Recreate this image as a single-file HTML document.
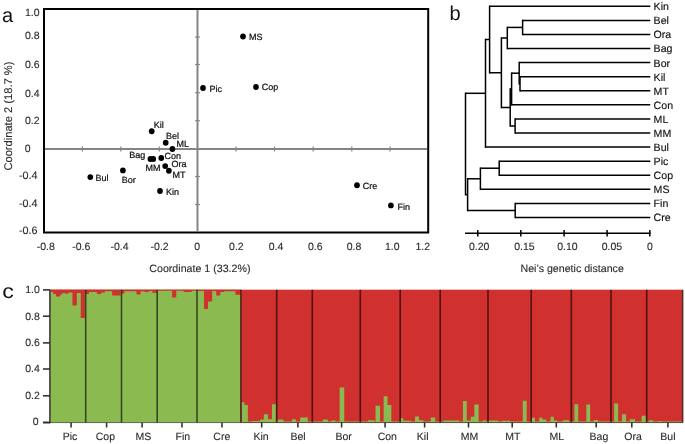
<!DOCTYPE html>
<html><head><meta charset="utf-8"><style>
html,body{margin:0;padding:0;background:#fff;}
body{width:685px;height:444px;overflow:hidden;}
svg{display:block;font-family:"Liberation Sans", sans-serif;will-change:transform;text-rendering:geometricPrecision;}
</style></head><body>
<svg width="685" height="444" viewBox="0 0 685 444">
<g><rect x="50" y="289.7" width="190.8" height="132.8" fill="#8bbb50"/><rect x="240.8" y="289.7" width="441.90000000000003" height="132.8" fill="#d0312f"/><rect x="50" y="289.7" width="190.8" height="0.9" fill="#d0312f"/><path d="M50.75 289.70H53.35V292.10H50.75ZM53.25 289.70H56.15V294.10H53.25ZM56.05 289.70H60.25V296.50H56.05ZM60.15 289.70H62.25V294.50H60.15ZM62.15 289.70H65.45V292.90H62.15ZM65.35 289.70H68.35V293.70H65.35ZM68.25 289.70H72.55V292.50H68.25ZM72.45 289.70H76.85V305.50H72.45ZM76.75 289.70H80.85V292.90H76.75ZM80.75 289.70H84.85V318.00H80.75ZM85.75 289.70H88.95V294.00H85.75ZM88.85 289.70H96.95V292.10H88.85ZM96.85 289.70H101.25V294.00H96.85ZM101.15 289.70H104.85V292.40H101.15ZM104.75 289.70H112.25V291.20H104.75ZM112.15 289.70H120.55V295.50H112.15ZM121.75 289.70H124.35V293.40H121.75ZM124.25 289.70H136.65V291.20H124.25ZM136.55 289.70H140.55V294.60H136.55ZM140.45 289.70H144.55V291.20H140.45ZM144.45 289.70H148.85V292.10H144.45ZM148.75 289.70H152.55V290.90H148.75ZM152.45 289.70H156.55V292.70H152.45ZM157.75 289.70H172.25V290.30H157.75ZM172.15 289.70H176.25V297.60H172.15ZM176.15 289.70H183.65V290.30H176.15ZM183.55 289.70H191.65V292.10H183.55ZM191.55 289.70H196.35V290.30H191.55ZM197.75 289.70H204.15V290.90H197.75ZM204.05 289.70H207.95V309.10H204.05ZM207.85 289.70H212.15V301.40H207.85ZM212.05 289.70H216.35V290.90H212.05ZM216.25 289.70H220.25V295.50H216.25ZM220.15 289.70H224.05V292.00H220.15ZM223.95 289.70H235.55V291.30H223.95ZM235.45 289.70H240.25V294.80H235.45Z" fill="#d0312f"/><path d="M241.75 402.30H244.35V422.50H241.75ZM244.25 405.10H247.85V422.50H244.25ZM247.75 421.90H252.25V422.50H247.75ZM252.15 420.90H260.15V422.50H252.15ZM260.05 419.60H263.95V422.50H260.05ZM263.85 414.30H268.05V422.50H263.85ZM267.95 419.30H272.05V422.50H267.95ZM271.95 404.20H275.85V422.50H271.95ZM277.75 419.60H283.55V422.50H277.75ZM283.45 421.50H292.05V422.50H283.45ZM291.95 419.30H295.85V422.50H291.95ZM295.75 421.50H300.25V422.50H295.75ZM300.15 417.40H307.75V422.50H300.15ZM307.65 421.50H311.25V422.50H307.65ZM312.95 421.60H322.95V422.50H312.95ZM322.85 419.60H327.85V422.50H322.85ZM327.75 421.60H339.75V422.50H327.75ZM339.65 387.40H344.25V422.50H339.65ZM344.15 421.60H359.55V422.50H344.15ZM360.95 421.60H368.05V422.50H360.95ZM367.95 420.20H374.35V422.50H367.95ZM375.55 405.70H380.05V422.50H375.55ZM383.65 396.30H387.55V422.50H383.65ZM387.45 405.10H391.35V422.50H387.45ZM400.65 418.30H403.25V422.50H400.65ZM403.15 420.80H410.75V422.50H403.15ZM415.05 416.40H418.95V422.50H415.05ZM418.85 420.20H423.35V422.50H418.85ZM430.75 417.40H435.25V422.50H430.75ZM443.55 420.60H459.05V422.50H443.55ZM462.95 401.00H466.75V422.50H462.95ZM466.65 420.60H470.95V422.50H466.65ZM470.85 416.70H474.45V422.50H470.85ZM474.35 404.50H478.65V422.50H474.35ZM482.75 420.60H486.45V422.50H482.75ZM488.45 420.40H498.35V422.50H488.45ZM501.95 420.80H510.05V422.50H501.95ZM522.75 400.70H526.65V422.50H522.75ZM531.75 417.70H534.95V422.50H531.75ZM539.25 417.70H542.45V422.50H539.25ZM542.35 419.50H546.25V422.50H542.35ZM550.55 416.70H553.75V422.50H550.55ZM553.65 420.50H557.05V422.50H553.65ZM562.95 420.20H569.05V422.50H562.95ZM574.45 404.20H578.25V422.50H574.45ZM586.35 404.50H590.15V422.50H586.35ZM593.85 419.90H597.75V422.50H593.85ZM614.15 403.60H618.15V422.50H614.15ZM621.95 414.30H626.05V422.50H621.95ZM629.85 419.30H635.05V422.50H629.85ZM641.65 415.70H645.75V422.50H641.65ZM648.95 420.20H653.05V422.50H648.95ZM658.95 421.00H661.55V422.50H658.95ZM331.45 420.60H335.55V422.50H331.45ZM241.45 421.50H682.55V422.50H241.45Z" fill="#8bbb50"/><line x1="85.7" y1="289.7" x2="85.7" y2="422.5" stroke="#000" stroke-opacity="0.62" stroke-width="1.6"/><line x1="121.5" y1="289.7" x2="121.5" y2="422.5" stroke="#000" stroke-opacity="0.62" stroke-width="1.6"/><line x1="157.2" y1="289.7" x2="157.2" y2="422.5" stroke="#000" stroke-opacity="0.62" stroke-width="1.6"/><line x1="197" y1="289.7" x2="197" y2="422.5" stroke="#000" stroke-opacity="0.62" stroke-width="1.6"/><line x1="240.8" y1="289.7" x2="240.8" y2="422.5" stroke="#000" stroke-opacity="0.62" stroke-width="1.6"/><line x1="276.7" y1="289.7" x2="276.7" y2="422.5" stroke="#000" stroke-opacity="0.62" stroke-width="1.6"/><line x1="312.3" y1="289.7" x2="312.3" y2="422.5" stroke="#000" stroke-opacity="0.62" stroke-width="1.6"/><line x1="360.3" y1="289.7" x2="360.3" y2="422.5" stroke="#000" stroke-opacity="0.62" stroke-width="1.6"/><line x1="400.2" y1="289.7" x2="400.2" y2="422.5" stroke="#000" stroke-opacity="0.62" stroke-width="1.6"/><line x1="440.2" y1="289.7" x2="440.2" y2="422.5" stroke="#000" stroke-opacity="0.62" stroke-width="1.6"/><line x1="488" y1="289.7" x2="488" y2="422.5" stroke="#000" stroke-opacity="0.62" stroke-width="1.6"/><line x1="531.2" y1="289.7" x2="531.2" y2="422.5" stroke="#000" stroke-opacity="0.62" stroke-width="1.6"/><line x1="571.3" y1="289.7" x2="571.3" y2="422.5" stroke="#000" stroke-opacity="0.62" stroke-width="1.6"/><line x1="611" y1="289.7" x2="611" y2="422.5" stroke="#000" stroke-opacity="0.62" stroke-width="1.6"/><line x1="646.7" y1="289.7" x2="646.7" y2="422.5" stroke="#000" stroke-opacity="0.62" stroke-width="1.6"/><line x1="682.7" y1="289.7" x2="682.7" y2="422.5" stroke="#000" stroke-opacity="0.62" stroke-width="1.6"/><line x1="49.9" y1="289.7" x2="49.9" y2="423.2" stroke="#333" stroke-width="1.5"/><line x1="43" y1="422.5" x2="50" y2="422.5" stroke="#333" stroke-width="1.6"/><line x1="50" y1="422.6" x2="683" y2="422.6" stroke="#000" stroke-opacity="0.6" stroke-width="0.9"/><line x1="43" y1="289.9" x2="50" y2="289.9" stroke="#333" stroke-width="1.6"/><text x="39.8" y="293.2" font-size="10.5" fill="#2b2b2b" stroke="#2b2b2b" stroke-width="0.12" text-anchor="end">1.0</text><line x1="43" y1="316.2" x2="50" y2="316.2" stroke="#333" stroke-width="1.6"/><text x="39.8" y="319.5" font-size="10.5" fill="#2b2b2b" stroke="#2b2b2b" stroke-width="0.12" text-anchor="end">0.8</text><line x1="43" y1="342.9" x2="50" y2="342.9" stroke="#333" stroke-width="1.6"/><text x="39.8" y="346.2" font-size="10.5" fill="#2b2b2b" stroke="#2b2b2b" stroke-width="0.12" text-anchor="end">0.6</text><line x1="43" y1="369" x2="50" y2="369" stroke="#333" stroke-width="1.6"/><text x="39.8" y="372.3" font-size="10.5" fill="#2b2b2b" stroke="#2b2b2b" stroke-width="0.12" text-anchor="end">0.4</text><line x1="43" y1="395.8" x2="50" y2="395.8" stroke="#333" stroke-width="1.6"/><text x="39.8" y="399.1" font-size="10.5" fill="#2b2b2b" stroke="#2b2b2b" stroke-width="0.12" text-anchor="end">0.2</text><line x1="43" y1="422.5" x2="50" y2="422.5" stroke="#333" stroke-width="1.6"/><text x="38.6" y="424.9" font-size="10.5" fill="#2b2b2b" stroke="#2b2b2b" stroke-width="0.12" text-anchor="end">0</text><line x1="71.1" y1="422.5" x2="71.1" y2="427.5" stroke="#333" stroke-width="1.6"/><text x="70" y="440" font-size="10.5" fill="#2b2b2b" stroke="#2b2b2b" stroke-width="0.12" text-anchor="middle">Pic</text><line x1="106.6" y1="422.5" x2="106.6" y2="427.5" stroke="#333" stroke-width="1.6"/><text x="105.4" y="440" font-size="10.5" fill="#2b2b2b" stroke="#2b2b2b" stroke-width="0.12" text-anchor="middle">Cop</text><line x1="142.1" y1="422.5" x2="142.1" y2="427.5" stroke="#333" stroke-width="1.6"/><text x="143.4" y="440" font-size="10.5" fill="#2b2b2b" stroke="#2b2b2b" stroke-width="0.12" text-anchor="middle">MS</text><line x1="182" y1="422.5" x2="182" y2="427.5" stroke="#333" stroke-width="1.6"/><text x="182.9" y="440" font-size="10.5" fill="#2b2b2b" stroke="#2b2b2b" stroke-width="0.12" text-anchor="middle">Fin</text><line x1="222" y1="422.5" x2="222" y2="427.5" stroke="#333" stroke-width="1.6"/><text x="221.8" y="440" font-size="10.5" fill="#2b2b2b" stroke="#2b2b2b" stroke-width="0.12" text-anchor="middle">Cre</text><line x1="261.7" y1="422.5" x2="261.7" y2="427.5" stroke="#333" stroke-width="1.6"/><text x="261.1" y="440" font-size="10.5" fill="#2b2b2b" stroke="#2b2b2b" stroke-width="0.12" text-anchor="middle">Kin</text><line x1="297.9" y1="422.5" x2="297.9" y2="427.5" stroke="#333" stroke-width="1.6"/><text x="298" y="440" font-size="10.5" fill="#2b2b2b" stroke="#2b2b2b" stroke-width="0.12" text-anchor="middle">Bel</text><line x1="341.6" y1="422.5" x2="341.6" y2="427.5" stroke="#333" stroke-width="1.6"/><text x="343.7" y="440" font-size="10.5" fill="#2b2b2b" stroke="#2b2b2b" stroke-width="0.12" text-anchor="middle">Bor</text><line x1="385.1" y1="422.5" x2="385.1" y2="427.5" stroke="#333" stroke-width="1.6"/><text x="387.3" y="440" font-size="10.5" fill="#2b2b2b" stroke="#2b2b2b" stroke-width="0.12" text-anchor="middle">Con</text><line x1="424.6" y1="422.5" x2="424.6" y2="427.5" stroke="#333" stroke-width="1.6"/><text x="422.7" y="440" font-size="10.5" fill="#2b2b2b" stroke="#2b2b2b" stroke-width="0.12" text-anchor="middle">Kil</text><line x1="468.5" y1="422.5" x2="468.5" y2="427.5" stroke="#333" stroke-width="1.6"/><text x="469.6" y="440" font-size="10.5" fill="#2b2b2b" stroke="#2b2b2b" stroke-width="0.12" text-anchor="middle">MM</text><line x1="512.2" y1="422.5" x2="512.2" y2="427.5" stroke="#333" stroke-width="1.6"/><text x="512.8" y="440" font-size="10.5" fill="#2b2b2b" stroke="#2b2b2b" stroke-width="0.12" text-anchor="middle">MT</text><line x1="556.3" y1="422.5" x2="556.3" y2="427.5" stroke="#333" stroke-width="1.6"/><text x="556.9" y="440" font-size="10.5" fill="#2b2b2b" stroke="#2b2b2b" stroke-width="0.12" text-anchor="middle">ML</text><line x1="596.2" y1="422.5" x2="596.2" y2="427.5" stroke="#333" stroke-width="1.6"/><text x="598.9" y="440" font-size="10.5" fill="#2b2b2b" stroke="#2b2b2b" stroke-width="0.12" text-anchor="middle">Bag</text><line x1="631.8" y1="422.5" x2="631.8" y2="427.5" stroke="#333" stroke-width="1.6"/><text x="633" y="440" font-size="10.5" fill="#2b2b2b" stroke="#2b2b2b" stroke-width="0.12" text-anchor="middle">Ora</text><line x1="667.9" y1="422.5" x2="667.9" y2="427.5" stroke="#333" stroke-width="1.6"/><text x="667.9" y="440" font-size="10.5" fill="#2b2b2b" stroke="#2b2b2b" stroke-width="0.12" text-anchor="middle">Bul</text><text transform="translate(2.2,298) scale(1.16,1)" x="0" y="0" font-size="20" fill="#111">c</text></g>
<g><rect x="44" y="9" width="384.2" height="223.5" fill="none" stroke="#000" stroke-width="2"/><line x1="197.5" y1="10" x2="197.5" y2="231" stroke="#848484" stroke-width="2"/><line x1="45" y1="149" x2="427" y2="149" stroke="#848484" stroke-width="2"/><line x1="82.4" y1="146.6" x2="82.4" y2="151.4" stroke="#848484" stroke-width="1.2"/><line x1="120.8" y1="146.6" x2="120.8" y2="151.4" stroke="#848484" stroke-width="1.2"/><line x1="159.3" y1="146.6" x2="159.3" y2="151.4" stroke="#848484" stroke-width="1.2"/><line x1="236" y1="146.6" x2="236" y2="151.4" stroke="#848484" stroke-width="1.2"/><line x1="274.5" y1="146.6" x2="274.5" y2="151.4" stroke="#848484" stroke-width="1.2"/><line x1="313.2" y1="146.6" x2="313.2" y2="151.4" stroke="#848484" stroke-width="1.2"/><line x1="351.8" y1="146.6" x2="351.8" y2="151.4" stroke="#848484" stroke-width="1.2"/><line x1="390.1" y1="146.6" x2="390.1" y2="151.4" stroke="#848484" stroke-width="1.2"/><line x1="195.1" y1="37.1" x2="199.9" y2="37.1" stroke="#848484" stroke-width="1.2"/><line x1="195.1" y1="64.5" x2="199.9" y2="64.5" stroke="#848484" stroke-width="1.2"/><line x1="195.1" y1="92.7" x2="199.9" y2="92.7" stroke="#848484" stroke-width="1.2"/><line x1="195.1" y1="120.7" x2="199.9" y2="120.7" stroke="#848484" stroke-width="1.2"/><line x1="195.1" y1="176.5" x2="199.9" y2="176.5" stroke="#848484" stroke-width="1.2"/><line x1="195.1" y1="204.5" x2="199.9" y2="204.5" stroke="#848484" stroke-width="1.2"/><ellipse cx="243.0" cy="36.5" rx="2.85" ry="2.95" fill="#000"/><ellipse cx="203.0" cy="88.0" rx="2.85" ry="2.95" fill="#000"/><ellipse cx="256.0" cy="87.0" rx="2.85" ry="2.95" fill="#000"/><ellipse cx="151.7" cy="131.3" rx="2.85" ry="2.95" fill="#000"/><ellipse cx="165.7" cy="142.8" rx="2.85" ry="2.95" fill="#000"/><ellipse cx="172.4" cy="149.0" rx="2.85" ry="2.95" fill="#000"/><ellipse cx="150.4" cy="159.0" rx="2.85" ry="2.95" fill="#000"/><ellipse cx="153.3" cy="159.0" rx="2.85" ry="2.95" fill="#000"/><ellipse cx="161.3" cy="158.0" rx="2.85" ry="2.95" fill="#000"/><ellipse cx="165.2" cy="166.1" rx="2.85" ry="2.95" fill="#000"/><ellipse cx="168.9" cy="170.8" rx="2.85" ry="2.95" fill="#000"/><ellipse cx="122.9" cy="170.4" rx="2.85" ry="2.95" fill="#000"/><ellipse cx="90.3" cy="177.1" rx="2.85" ry="2.95" fill="#000"/><ellipse cx="160.0" cy="191.0" rx="2.85" ry="2.95" fill="#000"/><ellipse cx="357.0" cy="185.2" rx="2.85" ry="2.95" fill="#000"/><ellipse cx="390.9" cy="205.4" rx="2.85" ry="2.95" fill="#000"/><text x="248.9" y="40.4" font-size="9" fill="#111" stroke="#111" stroke-width="0.22">MS</text><text x="209.5" y="92.2" font-size="9" fill="#111" stroke="#111" stroke-width="0.22">Pic</text><text x="261.7" y="89.9" font-size="9" fill="#111" stroke="#111" stroke-width="0.22">Cop</text><text x="153.7" y="128.0" font-size="9" fill="#111" stroke="#111" stroke-width="0.22">Kil</text><text x="166.0" y="139.3" font-size="9" fill="#111" stroke="#111" stroke-width="0.22">Bel</text><text x="176.6" y="146.6" font-size="9" fill="#111" stroke="#111" stroke-width="0.22">ML</text><text x="129.3" y="158.2" font-size="9" fill="#111" stroke="#111" stroke-width="0.22">Bag</text><text x="164.6" y="158.9" font-size="9" fill="#111" stroke="#111" stroke-width="0.22">Con</text><text x="145.6" y="171.0" font-size="9" fill="#111" stroke="#111" stroke-width="0.22">MM</text><text x="171.5" y="167.1" font-size="9" fill="#111" stroke="#111" stroke-width="0.22">Ora</text><text x="172.5" y="178.3" font-size="9" fill="#111" stroke="#111" stroke-width="0.22">MT</text><text x="95.5" y="180.9" font-size="9" fill="#111" stroke="#111" stroke-width="0.22">Bul</text><text x="121.7" y="183.0" font-size="9" fill="#111" stroke="#111" stroke-width="0.22">Bor</text><text x="166.1" y="194.9" font-size="9" fill="#111" stroke="#111" stroke-width="0.22">Kin</text><text x="362.8" y="189.2" font-size="9" fill="#111" stroke="#111" stroke-width="0.22">Cre</text><text x="397.6" y="209.6" font-size="9" fill="#111" stroke="#111" stroke-width="0.22">Fin</text><text x="39.6" y="15.799999999999999" font-size="10.5" fill="#2b2b2b" stroke="#2b2b2b" stroke-width="0.12" text-anchor="end">1.0</text><text x="39.6" y="39.2" font-size="10.5" fill="#2b2b2b" stroke="#2b2b2b" stroke-width="0.12" text-anchor="end">0.8</text><text x="39.6" y="67.6" font-size="10.5" fill="#2b2b2b" stroke="#2b2b2b" stroke-width="0.12" text-anchor="end">0.6</text><text x="39.6" y="96.8" font-size="10.5" fill="#2b2b2b" stroke="#2b2b2b" stroke-width="0.12" text-anchor="end">0.4</text><text x="39.6" y="123.6" font-size="10.5" fill="#2b2b2b" stroke="#2b2b2b" stroke-width="0.12" text-anchor="end">0.2</text><text x="24.7" y="151.79999999999998" font-size="10.5" fill="#2b2b2b" stroke="#2b2b2b" stroke-width="0.12">0</text><text x="37.6" y="178.7" font-size="10.8" fill="#2b2b2b" stroke="#2b2b2b" stroke-width="0.12" text-anchor="end">-0.4</text><text x="37.6" y="207.4" font-size="10.8" fill="#2b2b2b" stroke="#2b2b2b" stroke-width="0.12" text-anchor="end">-0.4</text><text x="37.6" y="233.7" font-size="10.8" fill="#2b2b2b" stroke="#2b2b2b" stroke-width="0.12" text-anchor="end">-0.6</text><text x="45.7" y="249.8" font-size="10.5" fill="#2b2b2b" stroke="#2b2b2b" stroke-width="0.12" text-anchor="middle">-0.8</text><text x="81.3" y="249.8" font-size="10.5" fill="#2b2b2b" stroke="#2b2b2b" stroke-width="0.12" text-anchor="middle">-0.6</text><text x="119.5" y="249.8" font-size="10.5" fill="#2b2b2b" stroke="#2b2b2b" stroke-width="0.12" text-anchor="middle">-0.4</text><text x="159.6" y="249.8" font-size="10.5" fill="#2b2b2b" stroke="#2b2b2b" stroke-width="0.12" text-anchor="middle">-0.2</text><text x="197.2" y="249.8" font-size="10.5" fill="#2b2b2b" stroke="#2b2b2b" stroke-width="0.12" text-anchor="middle">0</text><text x="236.4" y="249.8" font-size="10.5" fill="#2b2b2b" stroke="#2b2b2b" stroke-width="0.12" text-anchor="middle">0.2</text><text x="276" y="249.8" font-size="10.5" fill="#2b2b2b" stroke="#2b2b2b" stroke-width="0.12" text-anchor="middle">0.4</text><text x="315.2" y="249.8" font-size="10.5" fill="#2b2b2b" stroke="#2b2b2b" stroke-width="0.12" text-anchor="middle">0.6</text><text x="354" y="249.8" font-size="10.5" fill="#2b2b2b" stroke="#2b2b2b" stroke-width="0.12" text-anchor="middle">0.8</text><text x="392.2" y="249.8" font-size="10.5" fill="#2b2b2b" stroke="#2b2b2b" stroke-width="0.12" text-anchor="middle">1.0</text><text x="422.7" y="249.8" font-size="10.5" fill="#2b2b2b" stroke="#2b2b2b" stroke-width="0.12" text-anchor="middle">1.2</text><text x="149.3" y="272.4" font-size="10.65" fill="#2b2b2b" stroke="#2b2b2b" stroke-width="0.12">Coordinate 1 (33.2%)</text><text transform="translate(12.4,170.6) rotate(-90)" x="0" y="0" font-size="11.15" fill="#2b2b2b" stroke="#2b2b2b" stroke-width="0.12">Coordinate 2 (18.7 %)</text><text x="2" y="21.9" font-size="20" fill="#111">a</text></g>
<g stroke="#000" stroke-width="1.5" stroke-linecap="butt"><line x1="522.6" y1="19.63" x2="522.6" y2="35.21"/><line x1="522.6" y1="20.38" x2="650.3" y2="20.38"/><line x1="522.6" y1="34.46" x2="650.3" y2="34.46"/><line x1="507.3" y1="26.67" x2="507.3" y2="49.29"/><line x1="507.3" y1="27.42" x2="522.6" y2="27.42"/><line x1="507.3" y1="48.54" x2="650.3" y2="48.54"/><line x1="520.0" y1="75.95" x2="520.0" y2="91.53"/><line x1="520.0" y1="76.7" x2="650.3" y2="76.7"/><line x1="520.0" y1="90.78" x2="650.3" y2="90.78"/><line x1="519.2" y1="61.87" x2="519.2" y2="84.49000000000001"/><line x1="519.2" y1="62.62" x2="650.3" y2="62.62"/><line x1="519.2" y1="83.74000000000001" x2="520.0" y2="83.74000000000001"/><line x1="511.6" y1="72.43" x2="511.6" y2="105.61"/><line x1="511.6" y1="73.18" x2="519.2" y2="73.18"/><line x1="511.6" y1="104.86" x2="650.3" y2="104.86"/><line x1="515.1" y1="118.19" x2="515.1" y2="133.77"/><line x1="515.1" y1="118.94" x2="650.3" y2="118.94"/><line x1="515.1" y1="133.02" x2="650.3" y2="133.02"/><line x1="510.2" y1="88.27000000000001" x2="510.2" y2="126.73"/><line x1="510.2" y1="89.02000000000001" x2="511.6" y2="89.02000000000001"/><line x1="510.2" y1="125.98" x2="515.1" y2="125.98"/><line x1="501.4" y1="37.230000000000004" x2="501.4" y2="108.25"/><line x1="501.4" y1="37.980000000000004" x2="507.3" y2="37.980000000000004"/><line x1="501.4" y1="107.5" x2="510.2" y2="107.5"/><line x1="489.6" y1="5.55" x2="489.6" y2="73.49000000000001"/><line x1="489.6" y1="6.3" x2="650.3" y2="6.3"/><line x1="489.6" y1="72.74000000000001" x2="501.4" y2="72.74000000000001"/><line x1="485.5" y1="38.77" x2="485.5" y2="147.85000000000002"/><line x1="485.5" y1="39.52" x2="489.6" y2="39.52"/><line x1="485.5" y1="147.10000000000002" x2="650.3" y2="147.10000000000002"/><line x1="499.2" y1="160.43" x2="499.2" y2="176.01000000000002"/><line x1="499.2" y1="161.18" x2="650.3" y2="161.18"/><line x1="499.2" y1="175.26000000000002" x2="650.3" y2="175.26000000000002"/><line x1="480.4" y1="167.47000000000003" x2="480.4" y2="190.09"/><line x1="480.4" y1="168.22000000000003" x2="499.2" y2="168.22000000000003"/><line x1="480.4" y1="189.34" x2="650.3" y2="189.34"/><line x1="515.2" y1="202.67000000000002" x2="515.2" y2="218.25"/><line x1="515.2" y1="203.42000000000002" x2="650.3" y2="203.42000000000002"/><line x1="515.2" y1="217.5" x2="650.3" y2="217.5"/><line x1="467.6" y1="178.03000000000003" x2="467.6" y2="211.21"/><line x1="467.6" y1="178.78000000000003" x2="480.4" y2="178.78000000000003"/><line x1="467.6" y1="210.46" x2="515.2" y2="210.46"/><line x1="465.5" y1="92.56000000000002" x2="465.5" y2="195.37"/><line x1="465.5" y1="93.31000000000002" x2="485.5" y2="93.31000000000002"/><line x1="465.5" y1="194.62" x2="467.6" y2="194.62"/><line x1="465" y1="233.2" x2="650.6" y2="233.2"/><line x1="477.8" y1="230" x2="477.8" y2="236.5"/><line x1="520.8" y1="230" x2="520.8" y2="236.5"/><line x1="564.1" y1="230" x2="564.1" y2="236.5"/><line x1="607.1" y1="230" x2="607.1" y2="236.5"/><line x1="649.8" y1="230" x2="649.8" y2="236.5"/></g>
<g><text x="653.6" y="10.2" font-size="10.6" fill="#111" stroke="#111" stroke-width="0.15">Kin</text><text x="653.6" y="24.3" font-size="10.6" fill="#111" stroke="#111" stroke-width="0.15">Bel</text><text x="653.6" y="38.4" font-size="10.6" fill="#111" stroke="#111" stroke-width="0.15">Ora</text><text x="653.6" y="52.4" font-size="10.6" fill="#111" stroke="#111" stroke-width="0.15">Bag</text><text x="653.6" y="66.5" font-size="10.6" fill="#111" stroke="#111" stroke-width="0.15">Bor</text><text x="653.6" y="80.6" font-size="10.6" fill="#111" stroke="#111" stroke-width="0.15">Kil</text><text x="653.6" y="94.7" font-size="10.6" fill="#111" stroke="#111" stroke-width="0.15">MT</text><text x="653.6" y="108.8" font-size="10.6" fill="#111" stroke="#111" stroke-width="0.15">Con</text><text x="653.6" y="122.8" font-size="10.6" fill="#111" stroke="#111" stroke-width="0.15">ML</text><text x="653.6" y="136.9" font-size="10.6" fill="#111" stroke="#111" stroke-width="0.15">MM</text><text x="653.6" y="151.0" font-size="10.6" fill="#111" stroke="#111" stroke-width="0.15">Bul</text><text x="653.6" y="165.1" font-size="10.6" fill="#111" stroke="#111" stroke-width="0.15">Pic</text><text x="653.6" y="179.2" font-size="10.6" fill="#111" stroke="#111" stroke-width="0.15">Cop</text><text x="653.6" y="193.2" font-size="10.6" fill="#111" stroke="#111" stroke-width="0.15">MS</text><text x="653.6" y="207.3" font-size="10.6" fill="#111" stroke="#111" stroke-width="0.15">Fin</text><text x="653.6" y="221.4" font-size="10.6" fill="#111" stroke="#111" stroke-width="0.15">Cre</text><text x="479.2" y="249.7" font-size="10.5" fill="#2b2b2b" stroke="#2b2b2b" stroke-width="0.12" text-anchor="middle">0.20</text><text x="524.4" y="249.7" font-size="10.5" fill="#2b2b2b" stroke="#2b2b2b" stroke-width="0.12" text-anchor="middle">0.15</text><text x="567.4" y="249.7" font-size="10.5" fill="#2b2b2b" stroke="#2b2b2b" stroke-width="0.12" text-anchor="middle">0.10</text><text x="611.9" y="249.7" font-size="10.5" fill="#2b2b2b" stroke="#2b2b2b" stroke-width="0.12" text-anchor="middle">0.05</text><text x="649.8" y="249.7" font-size="10.5" fill="#2b2b2b" stroke="#2b2b2b" stroke-width="0.12" text-anchor="middle">0</text><text x="520.5" y="272.4" font-size="10.65" fill="#2b2b2b" stroke="#2b2b2b" stroke-width="0.12">Nei’s genetic distance</text><text x="449.5" y="20" font-size="20" fill="#111">b</text></g>
</svg>
</body></html>
